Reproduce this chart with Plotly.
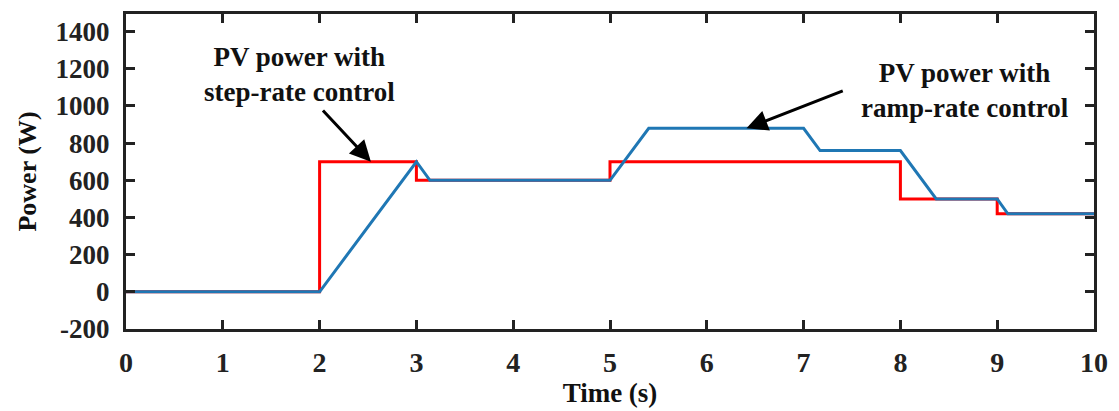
import plotly.graph_objects as go

# Step-rate controlled PV power (W) over time (s)
step_t = [0, 2, 2, 3, 3, 5, 5, 8, 8, 9, 9, 10]
step_p = [0, 0, 700, 700, 600, 600, 700, 700, 500, 500, 420, 420]

# Ramp-rate controlled PV power (W) over time (s)
ramp_t = [0, 2, 3, 3.14, 5, 5.4, 7, 7.17, 8, 8.37, 9, 9.11, 10]
ramp_p = [0, 0, 700, 600, 600, 880, 880, 760, 760, 500, 500, 420, 420]

x_ticks = [0, 1, 2, 3, 4, 5, 6, 7, 8, 9, 10]
y_ticks = [-200, 0, 200, 400, 600, 800, 1000, 1200, 1400]
y_tick_labels = ["-200", "0", "200", "400", "600", "800", "1000", "1200", "1400"]

FONT = "Times New Roman, Liberation Serif, serif"
AXIS_COLOR = "#222222"

fig = go.Figure()
fig.add_trace(go.Scatter(x=step_t, y=step_p, mode="lines",
                         line=dict(color="#ff0000", width=3), name="step-rate"))
fig.add_trace(go.Scatter(x=ramp_t, y=ramp_p, mode="lines",
                         line=dict(color="#1f77b4", width=3), name="ramp-rate"))

axis_common = dict(
    showline=True, linecolor=AXIS_COLOR, linewidth=3, mirror="ticks",
    ticks="inside", ticklen=9, tickwidth=3, tickcolor=AXIS_COLOR,
    showgrid=False, zeroline=False,
)

fig.update_xaxes(range=[0, 10], tickvals=x_ticks, ticklabelstandoff=6,
                 tickfont=dict(family=FONT, size=28, color="#222222", weight="bold"),
                 title=dict(text="Time (s)", standoff=4,
                            font=dict(family=FONT, size=27, color="#111111", weight="bold")),
                 **axis_common)
fig.update_yaxes(range=[-200, 1495], tickvals=y_ticks, ticktext=y_tick_labels,
                 ticklabelstandoff=8,
                 tickfont=dict(family=FONT, size=27, color="#222222", weight="bold"),
                 title=dict(text="Power (W)", standoff=12,
                            font=dict(family=FONT, size=26, color="#111111", weight="bold")),
                 **axis_common)

label_font = dict(family=FONT, size=27, color="#111111", weight="bold")

# Callout labels
fig.add_annotation(x=1.79, y=1172, xref="x", yref="y", showarrow=False,
                   text="PV power with<br>step-rate control", font=label_font,
                   align="center")
fig.add_annotation(x=8.67, y=1086, xref="x", yref="y", showarrow=False,
                   text="PV power with<br>ramp-rate control", font=label_font,
                   align="center")

# Arrows pointing to each curve
fig.add_annotation(x=2.53, y=700, ax=2.02, ay=984, xref="x", yref="y",
                   axref="x", ayref="y", text="", showarrow=True,
                   arrowhead=2, arrowsize=1.4, arrowwidth=3, arrowcolor="#000000")
fig.add_annotation(x=6.41, y=880, ax=7.42, ay=1084, xref="x", yref="y",
                   axref="x", ayref="y", text="", showarrow=True,
                   arrowhead=2, arrowsize=1.4, arrowwidth=3, arrowcolor="#000000")

fig.update_layout(
    width=1119, height=411,
    margin=dict(l=126, r=19, t=11, b=78),
    paper_bgcolor="white", plot_bgcolor="white",
    showlegend=False,
)

fig.write_html("out.html")
